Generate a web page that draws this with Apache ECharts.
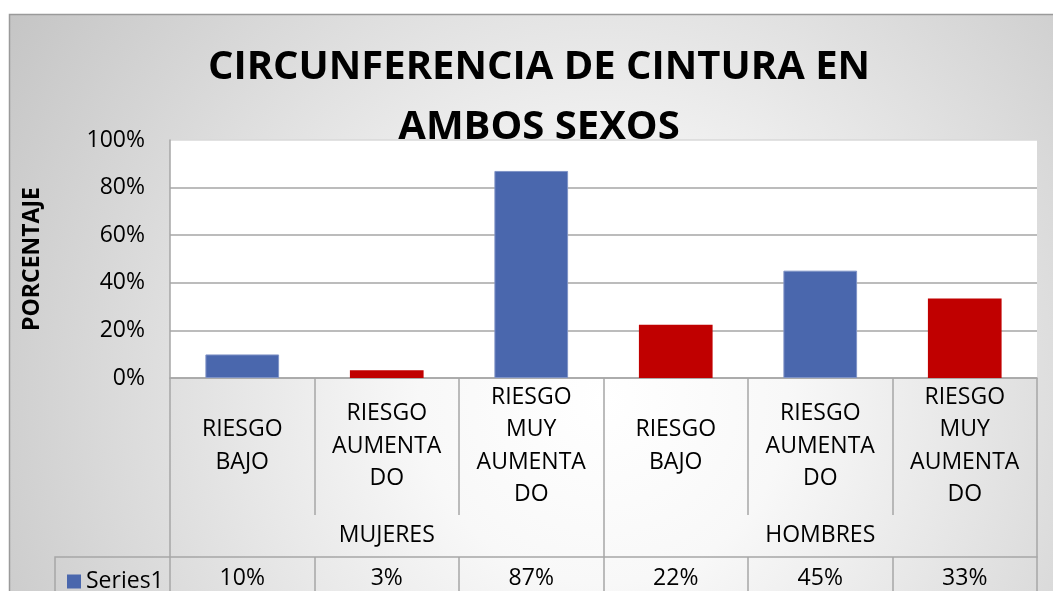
<!DOCTYPE html>
<html lang="es">
<head>
    <meta charset="UTF-8">
    <title>Circunferencia de cintura</title>
    <style>
        html, body { margin: 0; padding: 0; background: #fff; }
        #chart1 { width: 1053px; height: 591px; }
    </style>
</head>
<body>
<div id="chart1"></div>

<script type="text/javascript" src="https://cdn.jsdelivr.net/npm/echarts@6/dist/echarts.min.js"></script>
<script type="text/javascript">
    // datos
    var categorias = ['RIESGO\nBAJO', 'RIESGO\nAUMENTA\nDO', 'RIESGO\nMUY\nAUMENTA\nDO',
                      'RIESGO\nBAJO', 'RIESGO\nAUMENTA\nDO', 'RIESGO\nMUY\nAUMENTA\nDO'];
    var grupos = ['MUJERES', 'HOMBRES'];
    var valores = [0.099, 0.033, 0.87, 0.224, 0.451, 0.334];
    var nombreSerie = 'Series1';

    var azul = '#4a67ad', rojo = '#c00000';
    var coloresBarra = [azul, rojo, azul, rojo, azul, rojo];
    var gris = '#a6a6a6';
    var fuente = 'Open Sans';
    var tam = 23;

    var tabla = valores.map(function (v) { return Math.round(v * 100) + '%'; });

    var myChart1 = echarts.init(document.getElementById('chart1'));
    myChart1.setOption({
        textStyle: { fontFamily: fuente },
        graphic: [
            {
                type: 'rect', z: -10, silent: true,
                shape: { x: 9.5, y: 14.5, width: 1100, height: 700 },
                style: {
                    fill: {
                        type: 'radial', x: 0.54, y: 0.55, r: 1.05,
                        colorStops: [
                            { offset: 0, color: '#ffffff' },
                            { offset: 0.25, color: '#f8f8f8' },
                            { offset: 1, color: '#c2c2c2' }
                        ]
                    },
                    stroke: '#9a9a9a', lineWidth: 1.5
                }
            },
            {
                type: 'polyline', z: 5, silent: true,
                shape: { points: [[55, 600], [55, 557], [170, 557]] },
                style: { stroke: gris, lineWidth: 1.5, fill: null }
            }
        ],
        title: {
            text: 'CIRCUNFERENCIA DE CINTURA EN\nAMBOS SEXOS',
            left: 534,
            textAlign: 'center',
            top: 33,
            textStyle: {
                fontFamily: fuente,
                fontSize: 40,
                fontWeight: 'bold',
                lineHeight: 60,
                color: '#000'
            }
        },
        legend: {
            data: [nombreSerie],
            left: 62,
            top: 565,
            icon: 'rect',
            itemWidth: 14,
            itemHeight: 14,
            itemGap: 6,
            textStyle: { fontFamily: fuente, fontSize: tam, color: '#000' }
        },
        grid: {
            left: 170, right: 16, top: 140, bottom: 213,
            show: true, backgroundColor: '#ffffff', borderWidth: 0
        },
        xAxis: [
            {
                type: 'category',
                data: categorias,
                position: 'bottom',
                axisLine: { lineStyle: { color: gris, width: 1.5 } },
                axisTick: { show: true, interval: 0, length: 137, lineStyle: { color: gris, width: 1.5 } },
                axisLabel: {
                    interval: 0, margin: 68, verticalAlign: 'middle',
                    fontSize: tam, lineHeight: 32.5, color: '#000', fontFamily: fuente
                }
            },
            {
                type: 'category',
                data: grupos,
                position: 'bottom',
                axisLine: { show: false },
                axisTick: { show: true, interval: 0, length: 230, lineStyle: { color: gris, width: 1.5 } },
                axisLabel: {
                    interval: 0, margin: 157, verticalAlign: 'middle',
                    fontSize: tam, color: '#000', fontFamily: fuente
                }
            },
            {
                type: 'category',
                data: tabla,
                position: 'bottom',
                offset: 179,
                axisLine: { show: true, lineStyle: { color: gris, width: 1.5 } },
                axisTick: { show: true, interval: 0, length: 50, lineStyle: { color: gris, width: 1.5 } },
                axisLabel: {
                    interval: 0, margin: 21, verticalAlign: 'middle',
                    fontSize: tam, color: '#000', fontFamily: fuente
                }
            }
        ],
        yAxis: {
            type: 'value',
            min: 0, max: 1, interval: 0.2,
            name: 'PORCENTAJE',
            nameLocation: 'middle',
            nameRotate: 90,
            nameGap: 126,
            nameTextStyle: { fontFamily: fuente, fontSize: 23, fontWeight: 'bold', color: '#000' },
            axisLine: { show: true, lineStyle: { color: gris, width: 1.5 } },
            axisTick: { show: false },
            axisLabel: {
                margin: 25, fontSize: tam, color: '#000', fontFamily: fuente,
                formatter: function (v) { return Math.round(v * 100) + '%'; }
            },
            splitLine: {
                lineStyle: { color: [gris, gris, gris, gris, gris, '#d9d9d9'], width: 1.5 }
            }
        },
        series: [
            {
                name: nombreSerie,
                type: 'bar',
                xAxisIndex: 0,
                barWidth: '51%',
                itemStyle: { color: azul },
                data: valores.map(function (v, i) {
                    return {
                        value: v,
                        itemStyle: {
                            color: coloresBarra[i],
                            borderColor: coloresBarra[i] === azul ? '#7f93c6' : coloresBarra[i],
                            borderWidth: coloresBarra[i] === azul ? 1 : 0
                        }
                    };
                })
            }
        ]
    });
</script>

</body>
</html>
